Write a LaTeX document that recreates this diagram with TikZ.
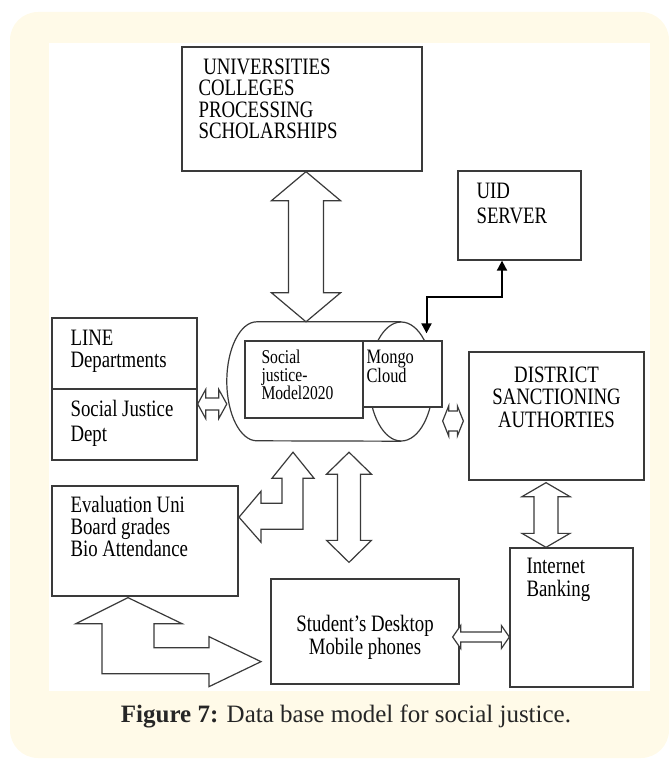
\documentclass[tikz,border=0pt]{standalone}
\usepackage{fontspec}
\setmainfont{Liberation Serif}
\newfontfamily\boxfont[FakeStretch=0.8]{Liberation Serif}
\usetikzlibrary{calc,arrows.meta}
\definecolor{panelyellow}{RGB}{255,250,232}
\definecolor{linegray}{RGB}{58,58,58}

% hollow two-headed block arrow: from, to, head length, head half width, shaft half width
\newcommand{\dblarrow}[5]{%
  \path (#1) coordinate (ba-s) (#2) coordinate (ba-e);
  \path ($(ba-s)!#3!(ba-e)$) coordinate (ba-p) ($(ba-e)!#3!(ba-s)$) coordinate (ba-q);
  \draw[blockarrow] (ba-s) -- ($(ba-p)!#4!90:(ba-e)$) -- ($(ba-p)!#5!90:(ba-e)$)
    -- ($(ba-q)!#5!-90:(ba-s)$) -- ($(ba-q)!#4!-90:(ba-s)$) -- (ba-e)
    -- ($(ba-q)!#4!90:(ba-s)$) -- ($(ba-q)!#5!90:(ba-s)$)
    -- ($(ba-p)!#5!-90:(ba-e)$) -- ($(ba-p)!#4!-90:(ba-e)$) -- cycle;
}

\begin{document}
\begin{tikzpicture}[x=1pt, y=-1pt,
		box/.style={draw=linegray, line width=1.3pt, fill=white, inner sep=0pt},
		boxtext/.style={font=\boxfont\fontsize{23.5}{22.5}\selectfont, align=left, inner sep=0pt, anchor=north west},
		blockarrow/.style={draw=linegray, line width=1.2pt, fill=white},
		cyl/.style={draw=linegray, line width=1.2pt},
		dblink/.style={black, line width=2pt, {Triangle[length=10pt,width=10pt]}-{Triangle[length=10pt,width=10pt]}}]
		
		\useasboundingbox (0,0) rectangle (669,762);
		\fill[panelyellow, rounded corners=28pt] (10,12) rectangle (669,758);
		\fill[white] (49,43) rectangle (650,691);
		
		% boxes
		\node[box, minimum width=240pt, minimum height=124pt] (univ) at (302,109) {};
		\node[box, minimum width=123pt, minimum height=89pt] (uid) at (519.5,215.5) {};
		\node[box, minimum width=145pt, minimum height=142pt] (line) at (124.5,389) {};
		\node[box, minimum width=186pt, minimum height=110pt] (eval) at (145,541) {};
		\node[box, minimum width=175pt, minimum height=128pt] (district) at (556.5,416) {};
		\node[box, minimum width=123pt, minimum height=139pt] (bank) at (571.5,617.5) {};
		\node[box, minimum width=188pt, minimum height=105pt] (student) at (365,631.5) {};
		\draw[linegray, line width=1.3pt] (line.west) -- (line.east);
		
		\node[boxtext, font=\boxfont\fontsize{23.5}{21.5}\selectfont] (univ-t) at ([shift={(17,12)}]univ.north west) {~UNIVERSITIES\\COLLEGES\\PROCESSING\\SCHOLARSHIPS};
		\node[boxtext, font=\boxfont\fontsize{23.5}{25}\selectfont] (uid-t) at ([shift={(19,13)}]uid.north west) {UID\\SERVER};
		\node[boxtext, font=\boxfont\fontsize{23.5}{22}\selectfont] (line-t) at ([shift={(19,13)}]line.north west) {LINE\\Departments};
		\node[boxtext, font=\boxfont\fontsize{23.5}{25}\selectfont] (sjd-t) at ([shift={(19,11)}]line.west) {Social Justice\\Dept};
		\node[boxtext, font=\boxfont\fontsize{23.5}{22}\selectfont] (eval-t) at ([shift={(19,11)}]eval.north west) {Evaluation Uni\\Board grades\\Bio Attendance};
		\node[boxtext, anchor=north, align=center] (district-t) at ([shift={(0,15)}]district.north) {DISTRICT\\SANCTIONING\\AUTHORTIES};
		\node[boxtext, font=\boxfont\fontsize{23.5}{23}\selectfont] (bank-t) at ([shift={(17,11)}]bank.north west) {Internet\\Banking};
		\node[boxtext, font=\boxfont\fontsize{23.5}{23}\selectfont, anchor=north, align=center] (student-t) at ([shift={(0,37)}]student.north) {Student’s Desktop\\Mobile phones};
		
		% database cylinder
		\node[minimum width=206pt, minimum height=119pt, inner sep=0pt] (db) at (330,381.5) {};
		\draw[cyl] ([xshift=-32pt]db.north east) -- ([xshift=30pt]db.north west)
		arc[start angle=90, end angle=270, x radius=30pt, y radius=59.5pt] -- ([xshift=-32pt]db.south east);
		\draw[cyl] ([xshift=-32pt]db.east) ellipse [x radius=32pt, y radius=59.5pt];
		\node[box, minimum width=118pt, minimum height=77pt] (sjm) at (304,379.5) {};
		\node[box, minimum width=79pt, minimum height=66pt] (mongo) at (402.5,374) {};
		\node[boxtext, font=\boxfont\fontsize{19.5}{18}\selectfont] (sjm-t) at ([shift={(17,9)}]sjm.north west) {Social\\justice-\\Model2020};
		\node[boxtext, font=\boxfont\fontsize{20.5}{19}\selectfont] (mongo-t) at ([shift={(4,10)}]mongo.north west) {Mongo\\Cloud};
		
		% link to UID server
		\coordinate (mongo-in) at ([shift={(24,-7)}]mongo.north);
		\coordinate (uid-in) at ([xshift=-17.5pt]uid.south);
		\coordinate (jog) at (464,297);
		\draw[dblink] (mongo-in) |- (jog) -| (uid-in);
		
		% block arrows
		\coordinate (dbin) at ([xshift=-24pt]db.north);
		\dblarrow{univ.south -| dbin}{dbin}{29pt}{34.5pt}{17.5pt}
		\coordinate (lj) at ([yshift=-15pt]line.east);
		\dblarrow{lj}{lj -| db.west}{8pt}{14.5pt}{6pt}
		\coordinate (md) at ([shift={(-5,5)}]district.west);
		\dblarrow{md -| mongo.east}{md}{6pt}{15pt}{10pt}
		\coordinate (dbk) at ([shift={(-10.5,2)}]district.south);
		\dblarrow{dbk}{dbk |- bank.north}{14pt}{24pt}{12pt}
		\coordinate (ds) at ([shift={(19,11)}]db.south);
		\coordinate (sd) at ($(ds |- student.north)+(0,-16)$);
		\dblarrow{ds}{sd}{22pt}{22.5pt}{11.5pt}
		\coordinate (sb) at ([shift={(-7,5.5)}]student.east);
		\dblarrow{sb}{sb -| bank.west}{8pt}{11.5pt}{5pt}
		
		% bent arrows
		\draw[blockarrow] ([shift={(-37,11)}]db.south) -- ++(21,26) -- ++(-11,0) -- ++(0,51) -- ++(-42,0)
		-- ++(0,13) -- ++(-22,-25) -- ++(22,-26) -- ++(0,12) -- ++(21,0) -- ++(0,-25) -- ++(-10,0) -- cycle;
		\draw[blockarrow] ([shift={(-17,1)}]eval.south) -- ++(54,26) -- ++(-28,0) -- ++(0,24) -- ++(55,0)
		-- ++(0,-11) -- ++(52,25) -- ++(-52,25) -- ++(0,-13) -- ++(-107,0) -- ++(0,-50) -- ++(-26,0) -- cycle;
		
		\node[font=\fontsize{25}{30}\selectfont, text=black!85, anchor=base] (caption) at (346,722)
		{\textbf{Figure 7:} Data base model for social justice.};
\end{tikzpicture}
\end{document}
